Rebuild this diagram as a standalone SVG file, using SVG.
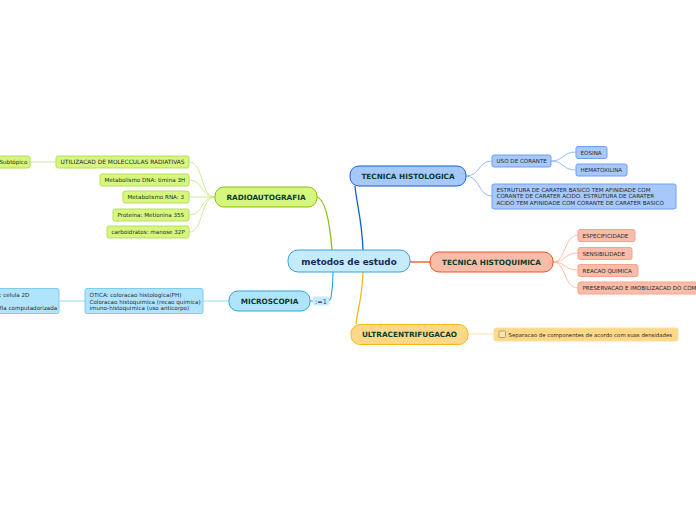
<svg xmlns="http://www.w3.org/2000/svg" width="696" height="520" viewBox="0 0 696 520">
<style>
text{font-family:"DejaVu Sans","Verdana",sans-serif}
.main{font-size:7.3px;font-weight:bold;fill:#0b3d2c;text-anchor:middle}
.sub{font-size:5.6px;fill:#2a2a2a}
.th{fill:#a6c8fa;stroke:#6fa0f0;stroke-width:1}
.hq{fill:#f8bca8;stroke:#f8a48c;stroke-width:1}
.uc{fill:#fdd888;stroke:#fbe09c;stroke-width:1}
.ra{fill:#d6f67e;stroke:#b6e05a;stroke-width:1}
.mi{fill:#b0e4fc;stroke:#7ccdf0;stroke-width:1}
</style>
<rect width="696" height="520" fill="#ffffff"/>
<g id="connectors" fill="none">
<path d="M363,250 C362,220 356,200 355,186" stroke="#1060d0" stroke-width="1.3"/>
<path d="M410,262 L430,262" stroke="#f05020" stroke-width="1.3"/>
<path d="M363,272 C362,300 357,312 356,324" stroke="#f8b818" stroke-width="1.3"/>
<path d="M332,250 C330,225 326,200 317,197" stroke="#88c010" stroke-width="1.3"/>
<path d="M333,272 C333,285 332,292 331,298 L329,301" stroke="#28a8e0" stroke-width="1.1"/>
<path d="M313,301 L310,301" stroke="#28a8e0" stroke-width="1.1"/>
<g stroke="#8ab4f4" stroke-width="0.9">
<path d="M466,176 C480,176 478,161 492,161"/>
<path d="M466,176 C480,176 478,196 492,196"/>
<path d="M551,161 C564,161 562,152 576,152"/>
<path d="M551,161 C564,161 562,170 576,170"/>
</g>
<g stroke="#f8b8a0" stroke-width="0.9">
<path d="M553,262 C566,262 564,235 578,235"/>
<path d="M553,262 C566,262 564,253 578,253"/>
<path d="M553,262 C566,262 564,270 578,270"/>
<path d="M553,262 C566,262 564,288 578,288"/>
</g>
<path d="M468,334 C480,334 482,334 494,334" stroke="#fce2a4" stroke-width="1"/>
<g stroke="#c8e890" stroke-width="0.9">
<path d="M215,197 C200,197 204,162 189,162"/>
<path d="M215,197 C200,197 204,180 189,180"/>
<path d="M215,197 C200,197 204,197 189,197"/>
<path d="M215,197 C200,197 204,215 189,215"/>
<path d="M215,197 C200,197 204,232 189,232"/>
<path d="M56,162 L30,162"/>
</g>
<g stroke="#90d4f2" stroke-width="0.9">
<path d="M229,301 L203,301"/>
<path d="M85,301 L59,301"/>
</g>
</g>

<g id="central">
<rect x="288" y="250" width="122" height="22" rx="10" fill="#c6ebfc" stroke="#3aa0e0" stroke-width="1"/>
<text x="349" y="264.5" style="font-size:8.8px;font-weight:bold;fill:#1a2a5a;text-anchor:middle">metodos de estudo</text>
</g>

<g id="tecnica-histologica">
<rect x="350" y="166" width="116" height="20" rx="9" fill="#a6c8fa" stroke="#1060d0" stroke-width="1"/>
<text x="408" y="178.7" class="main">TECNICA HISTOLOGICA</text>
</g>
<g id="uso-corante">
<rect x="492" y="155" width="59" height="12" rx="2" class="th"/>
<text x="496.5" y="163" class="sub">USO DE CORANTE</text>
</g>
<g id="eosina">
<rect x="576" y="146.5" width="31" height="12" rx="2" class="th"/>
<text x="580.5" y="154.5" class="sub">EOSINA</text>
</g>
<g id="hematoxilina">
<rect x="576" y="164" width="51" height="12" rx="2" class="th"/>
<text x="580.5" y="172" class="sub">HEMATOXILINA</text>
</g>
<g id="estrutura">
<rect x="492" y="184" width="184" height="25" rx="2" class="th"/>
<text class="sub"><tspan x="496.5" y="191.7">ESTRUTURA DE CARATER BASICO TEM AFINIDADE COM</tspan><tspan x="496.5" y="198.2">CORANTE DE CARATER ACIDO. ESTRUTURA DE CARATER</tspan><tspan x="496.5" y="204.7">ACIDO TEM AFINIDADE COM CORANTE DE CARATER BASICO</tspan></text>
</g>

<g id="tecnica-histoquimica">
<rect x="430" y="252" width="123" height="20" rx="9" fill="#f8bca8" stroke="#f05020" stroke-width="1"/>
<text x="491.5" y="264.7" class="main">TECNICA HISTOQUIMICA</text>
</g>
<g id="especificidade">
<rect x="578" y="229.5" width="57" height="12" rx="2" class="hq"/>
<text x="582.5" y="237.5" class="sub">ESPECIFICIDADE</text>
</g>
<g id="sensibilidade">
<rect x="578" y="247.5" width="54" height="12" rx="2" class="hq"/>
<text x="582.5" y="255.5" class="sub">SENSIBILIDADE</text>
</g>
<g id="reacao-quimica">
<rect x="578" y="264.5" width="60" height="12" rx="2" class="hq"/>
<text x="582.5" y="272.5" class="sub">REACAO QUIMICA</text>
</g>
<g id="preservacao">
<rect x="578" y="282" width="140" height="12" rx="2" class="hq"/>
<text x="582.5" y="290" class="sub">PRESERVACAO E IMOBILIZACAD DO COMPONENTE</text>
</g>

<g id="ultracentrifugacao">
<rect x="351" y="324.5" width="117" height="20" rx="9" fill="#fdd888" stroke="#f8b818" stroke-width="1"/>
<text x="409.5" y="337.2" class="main">ULTRACENTRIFUGACAO</text>
</g>
<g id="separacao">
<rect x="494" y="328" width="184" height="13" rx="2" class="uc"/>
<rect x="499" y="331" width="6.5" height="6.5" rx="1" fill="#fde6a8" stroke="#8a8a7a" stroke-width="0.7"/>
<text x="508.5" y="336.8" class="sub" style="font-size:5.4px">Separacao de componentes de acordo com suas densidades</text>
</g>

<g id="radioautografia">
<rect x="215" y="187" width="102" height="20" rx="9" fill="#d6f67e" stroke="#88c010" stroke-width="1"/>
<text x="266" y="199.7" class="main">RADIOAUTOGRAFIA</text>
</g>
<g id="utilizacad">
<rect x="56" y="156" width="133" height="12" rx="2" class="ra"/>
<text x="60.5" y="164" class="sub" style="font-size:5.9px">UTILIZACAD DE MOLECCULAS RADIATIVAS</text>
</g>
<g id="subtopico">
<rect x="-20" y="156" width="50" height="12" rx="2" class="ra"/>
<text x="-0.5" y="164" class="sub">Subtópico</text>
</g>
<g id="dna">
<rect x="100" y="174" width="89" height="12" rx="2" class="ra"/>
<text x="104.5" y="182" class="sub">Metabolismo DNA: timina 3H</text>
</g>
<g id="rna">
<rect x="123" y="191" width="66" height="12" rx="2" class="ra"/>
<text x="127.5" y="199" class="sub">Metabolismo RNA: 3</text>
</g>
<g id="proteina">
<rect x="113" y="209" width="76" height="12" rx="2" class="ra"/>
<text x="117.5" y="217" class="sub">Proteina: Metionina 35S</text>
</g>
<g id="carboidratos">
<rect x="107" y="226" width="82" height="12" rx="2" class="ra"/>
<text x="111.5" y="234" class="sub">carboidratos: manose 32P</text>
</g>

<g id="microscopia">
<rect x="229" y="291" width="81" height="20" rx="9" fill="#b0e4fc" stroke="#28a8e0" stroke-width="1"/>
<text x="269.5" y="303.7" class="main">MICROSCOPIA</text>
<rect x="313" y="296.5" width="16" height="9" rx="1.5" fill="#c6ebfc"/>
<text x="321" y="303.6" style="font-size:6.5px;fill:#1a3a6a;text-anchor:middle">:=1</text>
</g>
<g id="otica">
<rect x="85" y="288.5" width="118" height="25" rx="2" class="mi"/>
<text class="sub"><tspan x="89.5" y="297">OTICA: coloracao histologica(PH)</tspan><tspan x="89.5" y="303.5">Coloracao histoquimica (recao quimica)</tspan><tspan x="89.5" y="310">imuno-histoquimica (uso anticorpo)</tspan></text>
</g>
<g id="eletronica">
<rect x="-20" y="288.5" width="79" height="25" rx="2" class="mi"/>
<text class="sub"><tspan x="-0.5" y="297">: celula 2D</tspan><tspan x="-0.3" y="310">fia computadorizada</tspan></text>
</g>
</svg>
